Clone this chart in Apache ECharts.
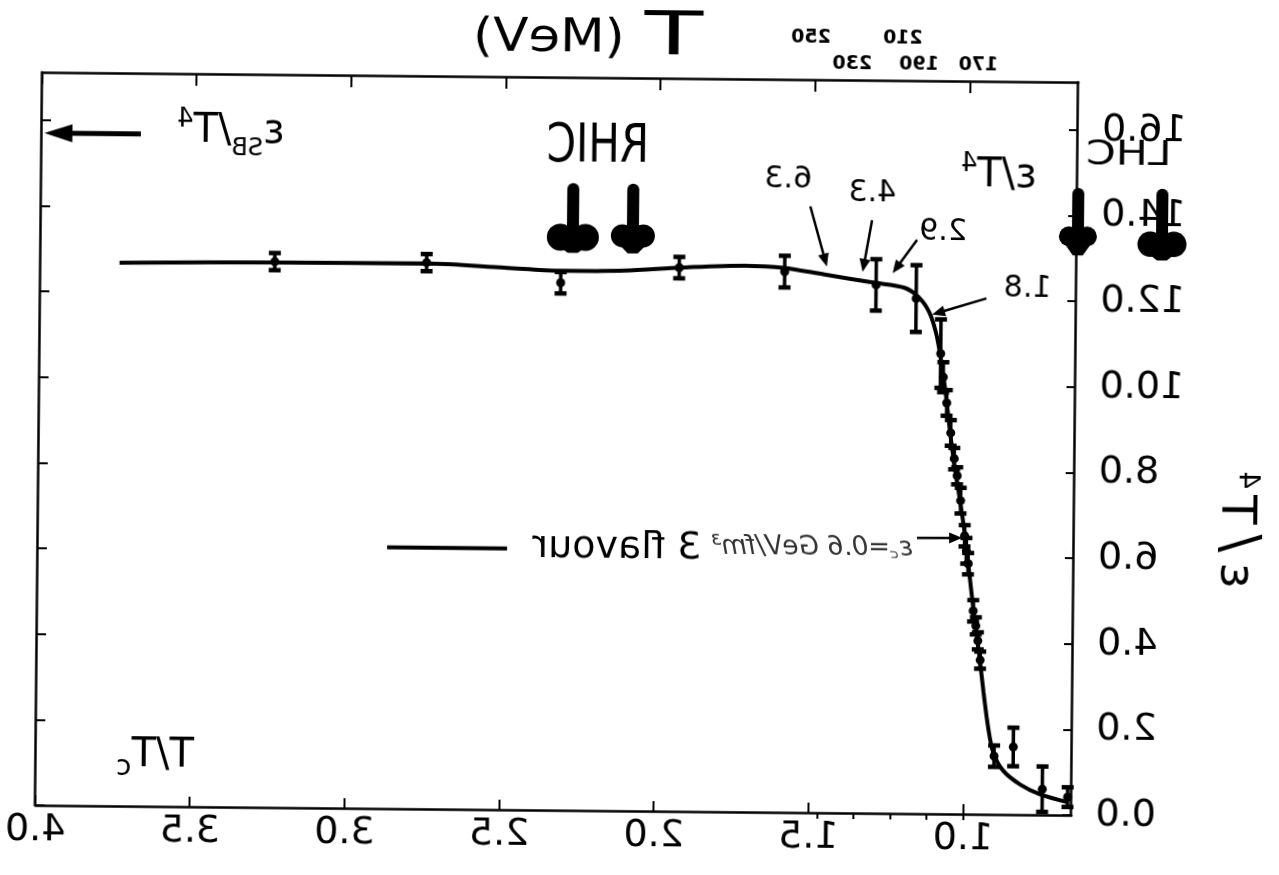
<!DOCTYPE html>
<html>
<head>
<meta charset="utf-8">
<script src="https://cdn.jsdelivr.net/npm/echarts@6/dist/echarts.min.js"></script>
<style>
  html, body { margin: 0; padding: 0; background: #fff; overflow: hidden; }
  /* the figure is drawn left-right reversed and sits slightly askew */
  #chart { width: 1279px; height: 875px; transform: translateY(2px) rotate(0.55deg) scaleX(-1); }
</style>
</head>
<body>
<div id="chart"></div>
<script>
// Energy density of three-flavour QCD, eps/T^4 versus T/Tc

const Tc = 170; // MeV

// smooth interpolation curve through the lattice results
const curveT = [0.663, 0.753, 0.818, 0.873, 0.905, 0.922, 0.938, 0.954, 0.970, 0.986,
                1.002, 1.019, 1.038, 1.054, 1.070, 1.087, 1.103, 1.125, 1.158, 1.206,
                1.303, 1.465, 1.597, 1.724, 1.930, 2.112, 2.318, 2.500, 2.752, 3.243, 3.745];
const curveE = [0.30, 0.48, 0.71, 1.03, 1.45, 2.03, 2.85, 3.78, 4.60, 5.53,
                6.46, 7.28, 8.09, 8.91, 9.84, 10.66, 11.24, 11.71, 12.05, 12.28,
                12.39, 12.57, 12.72, 12.76, 12.70, 12.62, 12.60, 12.66, 12.74, 12.73, 12.69];

// lattice points with their errors
const latT   = [0.663, 0.745, 0.840, 0.902, 0.950, 0.958, 0.965, 0.974, 0.992, 0.998,
                1.004, 1.018, 1.030, 1.040, 1.052, 1.066, 1.078, 1.087, 1.168, 1.298,
                1.594, 1.935, 2.318, 2.752, 3.243];
const latE   = [0.42, 0.60, 1.58, 1.36, 3.60, 4.05, 4.40, 4.75, 5.85, 6.15,
                6.50, 7.32, 7.90, 8.30, 8.90, 9.60, 10.20, 10.75, 12.03, 12.34,
                12.63, 12.70, 12.32, 12.76, 12.75];
const latErr = [0.23, 0.53, 0.45, 0.25, 0.20, 0.20, 0.20, 0.25, 0.25, 0.30,
                0.25, 0.30, 0.20, 0.25, 0.30, 0.30, 0.35, 0.80, 0.78, 0.60,
                0.37, 0.25, 0.25, 0.20, 0.20];

// axis ticks
const xTicks = [1.0, 1.5, 2.0, 2.5, 3.0, 3.5, 4.0];
const yTicks = [0, 2, 4, 6, 8, 10, 12, 14, 16];
const mevTicks = [170, 190, 210, 230, 250];
// hand-placed offsets of the MeV numbers from their ticks (px) and which ones sit on the upper row
const mevShift = { 170: -8, 190: 15, 210: -5, 230: 9, 250: 14 };
const mevUpper = [210, 250];

// Stefan-Boltzmann limit
const sbValue = 15.7;

// energy densities (GeV/fm^3) marked along the curve
const epsLabels = ['6.3', '4.3', '2.9', '1.8'];
const epsLabelPos = [[1.585, 14.79], [1.313, 14.48], [1.083, 13.58], [0.808, 12.27]];
const epsArrowFrom = [[1.513, 14.16], [1.313, 13.85], [1.167, 13.40], [0.941, 12.05]];
const epsArrowTo = [[1.458, 12.76], [1.342, 12.64], [1.245, 12.62], [1.116, 11.66]];

// initial temperatures expected at the colliders
const rhicT = [2.28, 2.086];
const lhcT = [0.647, 0.375];

const FONT = 'DejaVu Sans';
const BLACK = '#000';

function errorBar(params, api) {
  const t = api.value(0), e = api.value(1), d = api.value(2);
  const c = api.coord([t, e]);
  const hi = api.coord([t, e + d]);
  const lo = api.coord([t, e - d]);
  const cap = 6;
  const st = { stroke: BLACK, lineWidth: 3.5 };
  return {
    type: 'group',
    children: [
      { type: 'line', shape: { x1: c[0], y1: hi[1], x2: c[0], y2: lo[1] }, style: st },
      { type: 'line', shape: { x1: c[0] - cap, y1: hi[1], x2: c[0] + cap, y2: hi[1] }, style: { stroke: BLACK, lineWidth: 4.5 } },
      { type: 'line', shape: { x1: c[0] - cap, y1: lo[1], x2: c[0] + cap, y2: lo[1] }, style: { stroke: BLACK, lineWidth: 4.5 } },
      { type: 'circle', shape: { cx: c[0], cy: c[1], r: 4.5 }, style: { fill: BLACK } }
    ]
  };
}

function mevLabel(v) {
  const s = mevShift[v] || 0;
  const row = mevUpper.indexOf(v) >= 0 ? 'hi' : 'lo';
  const pad = s >= 0 ? 'L' + Math.round(2 * s) : 'R' + Math.round(-2 * s);
  return '{' + row + pad + '|' + v + '}';
}

// rich styles for the MeV numbers: row plus horizontal nudge
const mevRich = {};
mevTicks.forEach(v => {
  const s = mevShift[v] || 0;
  const pad = s >= 0 ? 'L' + Math.round(2 * s) : 'R' + Math.round(-2 * s);
  const left = s >= 0 ? Math.round(2 * s) : 0;
  const right = s < 0 ? Math.round(-2 * s) : 0;
  ['hi', 'lo'].forEach(row => {
    mevRich[row + pad] = {
      fontFamily: FONT, fontSize: 19, fontWeight: 'bold', color: BLACK,
      padding: [0, right, row === 'hi' ? 26 : 0, left]
    };
  });
});

const axisLine = { show: true, onZero: false, lineStyle: { color: BLACK, width: 2.5 } };

const option = {
  animation: false,
  backgroundColor: '#fff',
  grid: { left: 204, right: 39, top: 76, bottom: 66, containLabel: false, outerBoundsMode: 'none' },
  xAxis: [
    {
      type: 'value', min: 0.65, max: 4.0, position: 'bottom',
      axisLine: axisLine,
      axisTick: { show: true, inside: true, length: 10, customValues: xTicks, lineStyle: { color: BLACK, width: 2 } },
      axisLabel: { customValues: xTicks, formatter: v => v.toFixed(1), fontFamily: FONT, fontSize: 38, color: BLACK, margin: 6 },
      splitLine: { show: false }
    },
    {
      type: 'value', min: 0.65, max: 4.0, position: 'top',
      axisLine: axisLine,
      axisTick: { show: true, inside: true, length: 12, customValues: xTicks, lineStyle: { color: BLACK, width: 2 } },
      axisLabel: { show: false },
      splitLine: { show: false }
    },
    {
      type: 'value', min: 0.65 * Tc, max: 4.0 * Tc, position: 'top',
      axisLine: { show: false },
      axisTick: { show: true, inside: true, length: 6, customValues: mevTicks, lineStyle: { color: BLACK, width: 2 } },
      axisLabel: { customValues: mevTicks, margin: 6, formatter: mevLabel, rich: mevRich },
      splitLine: { show: false }
    }
  ],
  yAxis: [
    {
      type: 'value', min: 0, max: 17.12, position: 'left',
      axisLine: axisLine,
      axisTick: { show: true, inside: true, length: 9, customValues: yTicks, lineStyle: { color: BLACK, width: 2 } },
      axisLabel: { customValues: yTicks, formatter: v => v.toFixed(1), fontFamily: FONT, fontSize: 38, color: BLACK, margin: 24 },
      splitLine: { show: false }
    },
    {
      type: 'value', min: 0, max: 17.12, position: 'right',
      axisLine: axisLine,
      axisTick: { show: true, inside: true, length: 9, customValues: yTicks, lineStyle: { color: BLACK, width: 2 } },
      axisLabel: { show: false },
      splitLine: { show: false }
    }
  ],
  series: [
    {
      name: '3 flavour',
      type: 'line',
      xAxisIndex: 0, yAxisIndex: 0,
      data: curveT.map((t, i) => [t, curveE[i]]),
      smooth: 0.3,
      showSymbol: false,
      lineStyle: { color: BLACK, width: 4 },
      z: 2
    },
    {
      name: 'lattice',
      type: 'custom',
      xAxisIndex: 0, yAxisIndex: 0,
      data: latT.map((t, i) => [t, latE[i], latErr[i]]),
      renderItem: errorBar,
      z: 3
    }
  ]
};

const chart = echarts.init(document.getElementById('chart'), null, { renderer: 'canvas' });
chart.setOption(option);

const P = (t, e) => chart.convertToPixel({ xAxisIndex: 0, yAxisIndex: 0 }, [t, e]);

function arrow(from, to, width, headLen, headW) {
  const dx = to[0] - from[0], dy = to[1] - from[1];
  const L = Math.hypot(dx, dy), ux = dx / L, uy = dy / L;
  const bx = to[0] - ux * headLen, by = to[1] - uy * headLen;
  const nx = -uy, ny = ux;
  return [
    { type: 'line', shape: { x1: from[0], y1: from[1], x2: bx + ux * 2, y2: by + uy * 2 }, style: { stroke: BLACK, lineWidth: width } },
    { type: 'polygon', shape: { points: [to, [bx + nx * headW / 2, by + ny * headW / 2], [bx - nx * headW / 2, by - ny * headW / 2]] }, style: { fill: BLACK } }
  ];
}

// thick hand-drawn arrow with a rounded head
function fatArrow(cx, topY, tipY, headW) {
  const r = headW / 4 + 1;
  const headTop = tipY - 32;
  return [
    { type: 'rect', shape: { x: cx - 6, y: topY, width: 12, height: headTop - topY + 12, r: 6 }, style: { fill: BLACK } },
    { type: 'circle', shape: { cx: cx - headW / 4, cy: headTop + r + 2, r: r }, style: { fill: BLACK } },
    { type: 'circle', shape: { cx: cx + headW / 4, cy: headTop + r + 2, r: r }, style: { fill: BLACK } },
    { type: 'polygon', shape: { points: [[cx - headW / 2 + 1, headTop + r + 4], [cx + headW / 2 - 1, headTop + r + 4], [cx + 5, tipY - 1], [cx - 5, tipY - 1]] }, style: { fill: BLACK } }
  ];
}

function text(pos, str, font, extra, scale) {
  return {
    type: 'text', x: pos[0], y: pos[1],
    scaleX: scale ? scale[0] : 1, scaleY: scale ? scale[1] : 1,
    style: Object.assign({ text: str, font: font, fill: BLACK, align: 'center', verticalAlign: 'middle' }, extra || {})
  };
}

const g = [];

// Stefan-Boltzmann arrow and label
g.push(...arrow(P(3.68, sbValue), P(3.992, sbValue), 5, 28, 18));
g.push({
  type: 'text', x: P(3.389, 15.82)[0], y: P(3.389, 15.82)[1],
  style: {
    text: '{a|ε}{b|SB}{a|/T}{c|4}', align: 'center', verticalAlign: 'middle',
    rich: {
      a: { font: '40px ' + FONT, fill: BLACK, verticalAlign: 'bottom' },
      b: { font: '24px ' + FONT, fill: BLACK, verticalAlign: 'bottom', padding: [0, 0, -9, 0] },
      c: { font: '26px ' + FONT, fill: BLACK, verticalAlign: 'bottom', padding: [0, 0, 18, 0] }
    }
  }
});

// RHIC
g.push(text(P(2.202, 15.48), 'RHIC', '42px ' + FONT, null, [1, 1.25]));
g.push(...fatArrow(P(rhicT[0], 14.65)[0], P(rhicT[0], 14.65)[1], P(rhicT[0], 13.0)[1], 50));
g.push(...fatArrow(P(rhicT[1], 14.65)[0], P(rhicT[1], 14.65)[1], P(rhicT[1], 13.0)[1], 42));

// LHC
g.push(text(P(0.485, 15.4), 'LHC', '34px ' + FONT, null, [1.25, 1]));
g.push(...fatArrow(P(lhcT[0], 14.65)[0], P(lhcT[0], 14.65)[1], P(lhcT[0], 13.05)[1], 36));
g.push(...fatArrow(P(lhcT[1], 14.65)[0], P(lhcT[1], 14.65)[1], P(lhcT[1], 12.95)[1], 47));

// eps/T^4 tag near the transition
g.push({
  type: 'text', x: P(0.905, 14.96)[0], y: P(0.905, 14.96)[1],
  style: {
    text: '{a|ε/T}{c|4}', align: 'center', verticalAlign: 'middle',
    rich: {
      a: { font: '40px ' + FONT, fill: BLACK, verticalAlign: 'bottom' },
      c: { font: '26px ' + FONT, fill: BLACK, verticalAlign: 'bottom', padding: [0, 0, 18, 0] }
    }
  }
});

// energy density marks
epsLabels.forEach((s, i) => {
  g.push(text(P(epsLabelPos[i][0], epsLabelPos[i][1]), s, '30px ' + FONT));
  g.push(...arrow(P(epsArrowFrom[i][0], epsArrowFrom[i][1]), P(epsArrowTo[i][0], epsArrowTo[i][1]), 2.5, 13, 11));
});

// legend: line sample and label
const l0 = P(2.871, 6.1), l1 = P(2.483, 6.1);
g.push({ type: 'line', shape: { x1: l0[0], y1: l0[1], x2: l1[0], y2: l1[1] }, style: { stroke: BLACK, lineWidth: 4 } });
g.push(text(P(2.128, 6.14), '3 flavour', '38px ' + FONT));
g.push(text(P(1.497, 6.19), 'ε꜀=0.6 GeV/fm³', 'italic 26px ' + FONT, { fill: '#333' }));
g.push(...arrow(P(1.158, 6.44), P(1.012, 6.45), 2.5, 13, 11));

// T/Tc inside the frame
g.push({
  type: 'text', x: P(3.615, 1.18)[0], y: P(3.615, 1.18)[1],
  style: {
    text: '{a|T/T}{b|c}', align: 'center', verticalAlign: 'middle',
    rich: {
      a: { font: '40px ' + FONT, fill: BLACK, verticalAlign: 'bottom' },
      b: { font: '28px ' + FONT, fill: BLACK, verticalAlign: 'bottom', padding: [0, 0, -6, 0] }
    }
  }
});

// top title: temperature scale
g.push(text([609, 36], 'T', '60px ' + FONT, null, [1.6, 1]));
g.push(text([734, 38], '(MeV)', '46px ' + FONT, null, [1.12, 1]));

// vertical axis title
g.push({
  type: 'text', x: 41, y: 525, rotation: Math.PI / 2,
  style: {
    text: '{a|ε}{s|/}{a|T}{c|4}', align: 'center', verticalAlign: 'middle',
    rich: {
      a: { font: '48px ' + FONT, fill: BLACK, verticalAlign: 'bottom', padding: [0, 6, 0, 6] },
      s: { font: '54px ' + FONT, fill: BLACK, verticalAlign: 'bottom', padding: [0, 4, 0, 4] },
      c: { font: '28px ' + FONT, fill: BLACK, verticalAlign: 'bottom', padding: [0, 0, 22, 0] }
    }
  }
});

chart.setOption({ graphic: { elements: g } });
</script>
</body>
</html>
